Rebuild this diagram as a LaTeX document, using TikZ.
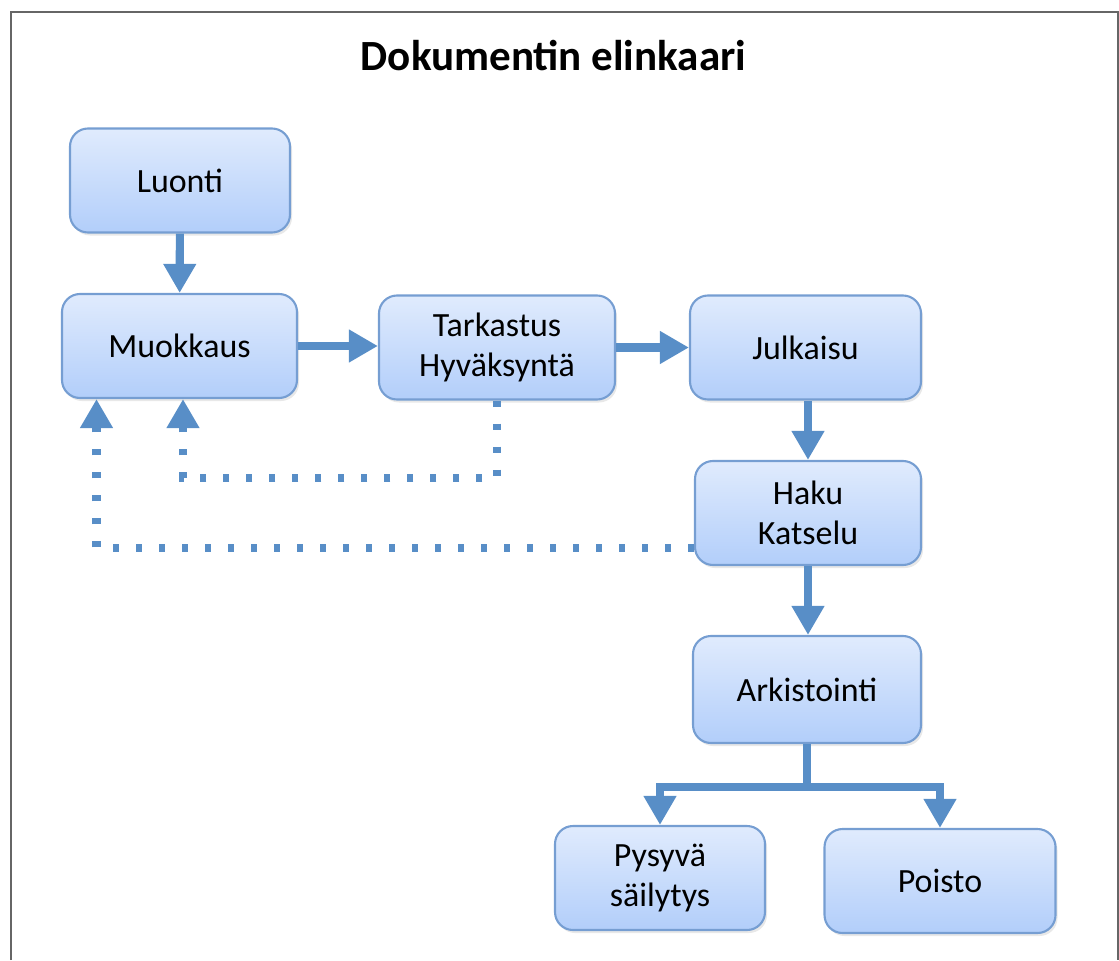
\documentclass[tikz,border=0pt]{standalone}
\usepackage{fontspec}
\setmainfont{Carlito}
\usetikzlibrary{arrows.meta,shadows}
\definecolor{flowblue}{RGB}{88,142,199}
\definecolor{boxtop}{RGB}{224,235,253}
\definecolor{boxbot}{RGB}{178,206,250}
\definecolor{boxline}{RGB}{118,158,210}
\begin{document}
\begin{tikzpicture}[
  box/.style={draw=boxline, line width=1.2pt, rounded corners=0.36cm,
    top color=boxtop, bottom color=boxbot, align=center,
    font=\fontsize{19.3}{22.5}\selectfont, minimum height=2.08cm,
    drop shadow={opacity=0.18, shadow xshift=0.04cm, shadow yshift=-0.06cm}},
  flow/.style={-{Triangle[width=0.62cm,length=0.58cm]}, flowblue, line width=4.6pt},
  back/.style={flow, dash pattern=on 0.12cm off 0.34cm},
]
  \useasboundingbox (0,0) rectangle (22.38,-19.2);
  \draw[gray!80!black, line width=1.2pt] (0.22,-19.2) -- (0.22,-0.24) -- (22.36,-0.24) -- (22.36,-19.2);
  \node[font=\fontsize{24.5}{28}\selectfont\bfseries] (title) at (11.07,-1.12) {Dokumentin elinkaari};

  \node[box, minimum width=4.4cm]  (luonti)   at ( 3.60, -3.61) {Luonti};
  \node[box, minimum width=4.7cm]  (muokkaus) at ( 3.59, -6.92) {Muokkaus};
  \node[box, minimum width=4.72cm] (tarkastus) at ( 9.94, -6.95) {Tarkastus\\Hyväksyntä};
  \node[box, minimum width=4.62cm] (julkaisu) at (16.11, -6.95) {Julkaisu};
  \node[box, minimum width=4.52cm] (haku)     at (16.16,-10.26) {Haku\\Katselu};
  \node[box, minimum width=4.56cm, minimum height=2.14cm] (arkisto) at (16.14,-13.79) {Arkistointi};
  \node[box, minimum width=4.2cm]  (pysyva)   at (13.20,-17.56) {Pysyvä\\säilytys};
  \node[box, minimum width=4.62cm] (poisto)   at (18.80,-17.62) {Poisto};

  \coordinate (haara) at (16.14,-15.74);

  \draw[flow] (luonti) -- (muokkaus);
  \draw[flow] (muokkaus) -- (muokkaus -| tarkastus.west);
  \draw[flow] (tarkastus) -- (tarkastus -| julkaisu.west);
  \draw[flow] (julkaisu.south -| haku) -- (haku);
  \draw[flow] (haku) -- (haku |- arkisto.north);
  \draw[flowblue, line width=4.6pt] (arkisto.south) -- (haara);
  \draw[flow] (haara) -| (pysyva.north);
  \draw[flow] (haara) -| (poisto.north);

  \draw[back] (tarkastus.south) |- (3.66,-9.56) -- ([xshift=0.07cm]muokkaus.south);
  \draw[back] ([yshift=-0.7cm]haku.west) -| ([xshift=-1.66cm]muokkaus.south);
\end{tikzpicture}
\end{document}
